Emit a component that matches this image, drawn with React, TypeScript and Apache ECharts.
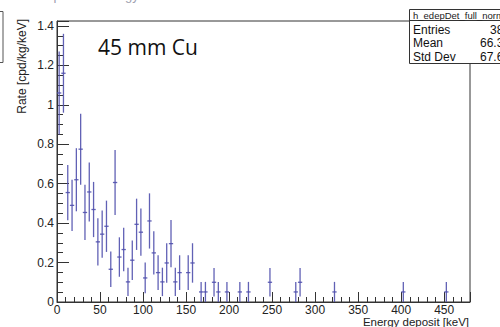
import React, { useEffect, useRef } from "react";
import * as echarts from "echarts";

// Histogram bins (keV centres), rate values [cpd/kg/keV] and their errors
const binCenters = [
  2.5, 7.5, 12.5, 17.5, 22.5, 27.5, 32.5, 37.5, 42.5, 47.5,
  52.5, 57.5, 62.5, 67.5, 72.5, 77.5, 82.5, 87.5, 92.5, 97.5,
  102.5, 107.5, 112.5, 117.5, 122.5, 127.5, 132.5, 137.5, 142.5, 152.5,
  157.5, 167.5, 172.5, 182.5, 187.5, 197.5, 212.5, 222.5, 247.5, 277.5,
  282.5, 322.5, 402.5, 452.5,
];
const rates = [
  1.06, 1.16, 0.555, 0.49, 0.62, 0.775, 0.454, 0.558, 0.469, 0.305,
  0.344, 0.384, 0.166, 0.606, 0.228, 0.266, 0.102, 0.212, 0.394, 0.354,
  0.122, 0.411, 0.249, 0.149, 0.102, 0.198, 0.296, 0.102, 0.149, 0.149,
  0.198, 0.051, 0.051, 0.1, 0.051, 0.051, 0.051, 0.051, 0.1, 0.051,
  0.1, 0.051, 0.051, 0.051,
];
const errors = [
  0.21, 0.2, 0.14, 0.13, 0.16, 0.18, 0.14, 0.15, 0.14, 0.12,
  0.12, 0.13, 0.09, 0.165, 0.1, 0.11, 0.072, 0.1, 0.13, 0.12,
  0.078, 0.14, 0.11, 0.088, 0.072, 0.1, 0.12, 0.072, 0.088, 0.088,
  0.1, 0.051, 0.051, 0.072, 0.051, 0.051, 0.051, 0.051, 0.072, 0.051,
  0.072, 0.051, 0.051, 0.051,
];
const BIN_WIDTH = 5;

const statsLabels = ["Entries", "Mean", "Std Dev"];
const statsValues = ["383", "66.31", "67.62"];

const FONT = "Liberation Sans, Arial, sans-serif";
const BAR_COLOR = "#5050ad";

export default function App() {
  const ref = useRef<HTMLDivElement>(null);
  useEffect(() => {
    if (!ref.current) return;
    const chart = echarts.init(ref.current, undefined, { renderer: "svg" });
    const data = binCenters.map((c, i) => [c, rates[i], errors[i]]);
    const statsText: any[] = [];
    statsLabels.forEach((l, i) => {
      statsText.push({
        type: "text",
        left: 413,
        top: 24 + i * 13.3,
        style: { text: l, font: `12px ${FONT}`, fill: "#111" },
        z: 101,
      });
      statsText.push({
        type: "text",
        x: 510,
        y: 24 + i * 13.3,
        style: { text: statsValues[i], font: `12px ${FONT}`, fill: "#111", align: "right", verticalAlign: "top" },
        z: 101,
      });
    });
    chart.setOption({
      animation: false,
      backgroundColor: "#fff",
      grid: {
        left: 57,
        right: 30,
        top: 21,
        bottom: 25,
        show: true,
        borderColor: "#333",
        borderWidth: 1,
        containLabel: false,
      },
      xAxis: {
        type: "value",
        min: 0,
        max: 480,
        interval: 50,
        axisLine: { show: true, lineStyle: { color: "#333", width: 1 } },
        axisTick: { show: true, inside: true, length: 10, lineStyle: { color: "#333" } },
        minorTick: { show: true, splitNumber: 5, length: 5, lineStyle: { color: "#333" } },
        splitLine: { show: false },
        minorSplitLine: { show: false },
        axisLabel: { margin: 2, fontSize: 12, color: "#222", fontFamily: FONT, showMaxLabel: false },
      },
      yAxis: {
        type: "value",
        min: 0,
        max: 1.425,
        interval: 0.2,
        axisLine: { show: true, lineStyle: { color: "#333", width: 1 } },
        axisTick: { show: true, inside: true, length: 12, lineStyle: { color: "#333" } },
        minorTick: { show: true, splitNumber: 4, length: 6, lineStyle: { color: "#333" } },
        splitLine: { show: false },
        minorSplitLine: { show: false },
        axisLabel: { margin: 3, fontSize: 12, color: "#222", fontFamily: FONT, showMaxLabel: false },
      },
      series: [
        {
          type: "custom",
          data,
          clip: true,
          renderItem: (params: any, api: any) => {
            const x = api.value(0);
            const y = api.value(1);
            const e = api.value(2);
            const p = api.coord([x, y]);
            const top = api.coord([x, y + e]);
            const bot = api.coord([x, Math.max(0, y - e)]);
            const l = api.coord([x - BIN_WIDTH / 2, y]);
            const r = api.coord([x + BIN_WIDTH / 2, y]);
            const style = { stroke: BAR_COLOR, lineWidth: 1.3, opacity: 0.9 };
            return {
              type: "group",
              children: [
                { type: "line", shape: { x1: p[0], y1: top[1], x2: p[0], y2: bot[1] }, style },
                { type: "line", shape: { x1: l[0], y1: p[1], x2: r[0], y2: p[1] }, style },
              ],
            };
          },
        },
      ],
      graphic: [
        {
          type: "text",
          left: 8,
          top: -11,
          style: { text: "Total deposited energy", font: `13px ${FONT}`, fill: "#a0a0b0" },
        },
        {
          type: "rect",
          shape: { x: -6, y: 11.5, width: 9, height: 51 },
          style: { fill: "none", stroke: "#555", lineWidth: 1 },
        },
        {
          type: "text",
          x: 22,
          y: 19,
          rotation: Math.PI / 2,
          style: {
            text: "Rate [cpd/kg/keV]",
            font: `12px ${FONT}`,
            fill: "#222",
            align: "right",
            verticalAlign: "middle",
          },
        },
        {
          type: "text",
          x: 469,
          y: 322,
          style: {
            text: "Energy deposit [keV]",
            font: `11.5px ${FONT}`,
            fill: "#222",
            align: "right",
            verticalAlign: "middle",
          },
        },
        {
          type: "text",
          x: 98,
          y: 47,
          style: {
            text: "45 mm Cu",
            font: `21px "Open Sans", "DejaVu Sans", sans-serif`,
            fill: "#111",
            align: "left",
            verticalAlign: "middle",
          },
        },
        {
          type: "rect",
          shape: { x: 409.5, y: 9.5, width: 110, height: 54 },
          style: { fill: "#fff", stroke: "#333", lineWidth: 1 },
          z: 100,
        },
        {
          type: "line",
          shape: { x1: 409.5, y1: 20.5, x2: 520, y2: 20.5 },
          style: { stroke: "#333", lineWidth: 1 },
          z: 101,
        },
        {
          type: "text",
          left: 413,
          top: 10.5,
          style: { text: "h_edepDet_full_norm", font: `9.5px ${FONT}`, fill: "#222" },
          z: 101,
        },
        ...statsText,
      ],
    });
    return () => chart.dispose();
  }, []);
  return (
    <div
      ref={ref}
      style={{ position: "fixed", left: 0, top: 0, width: 500, height: 327 }}
    />
  );
}
